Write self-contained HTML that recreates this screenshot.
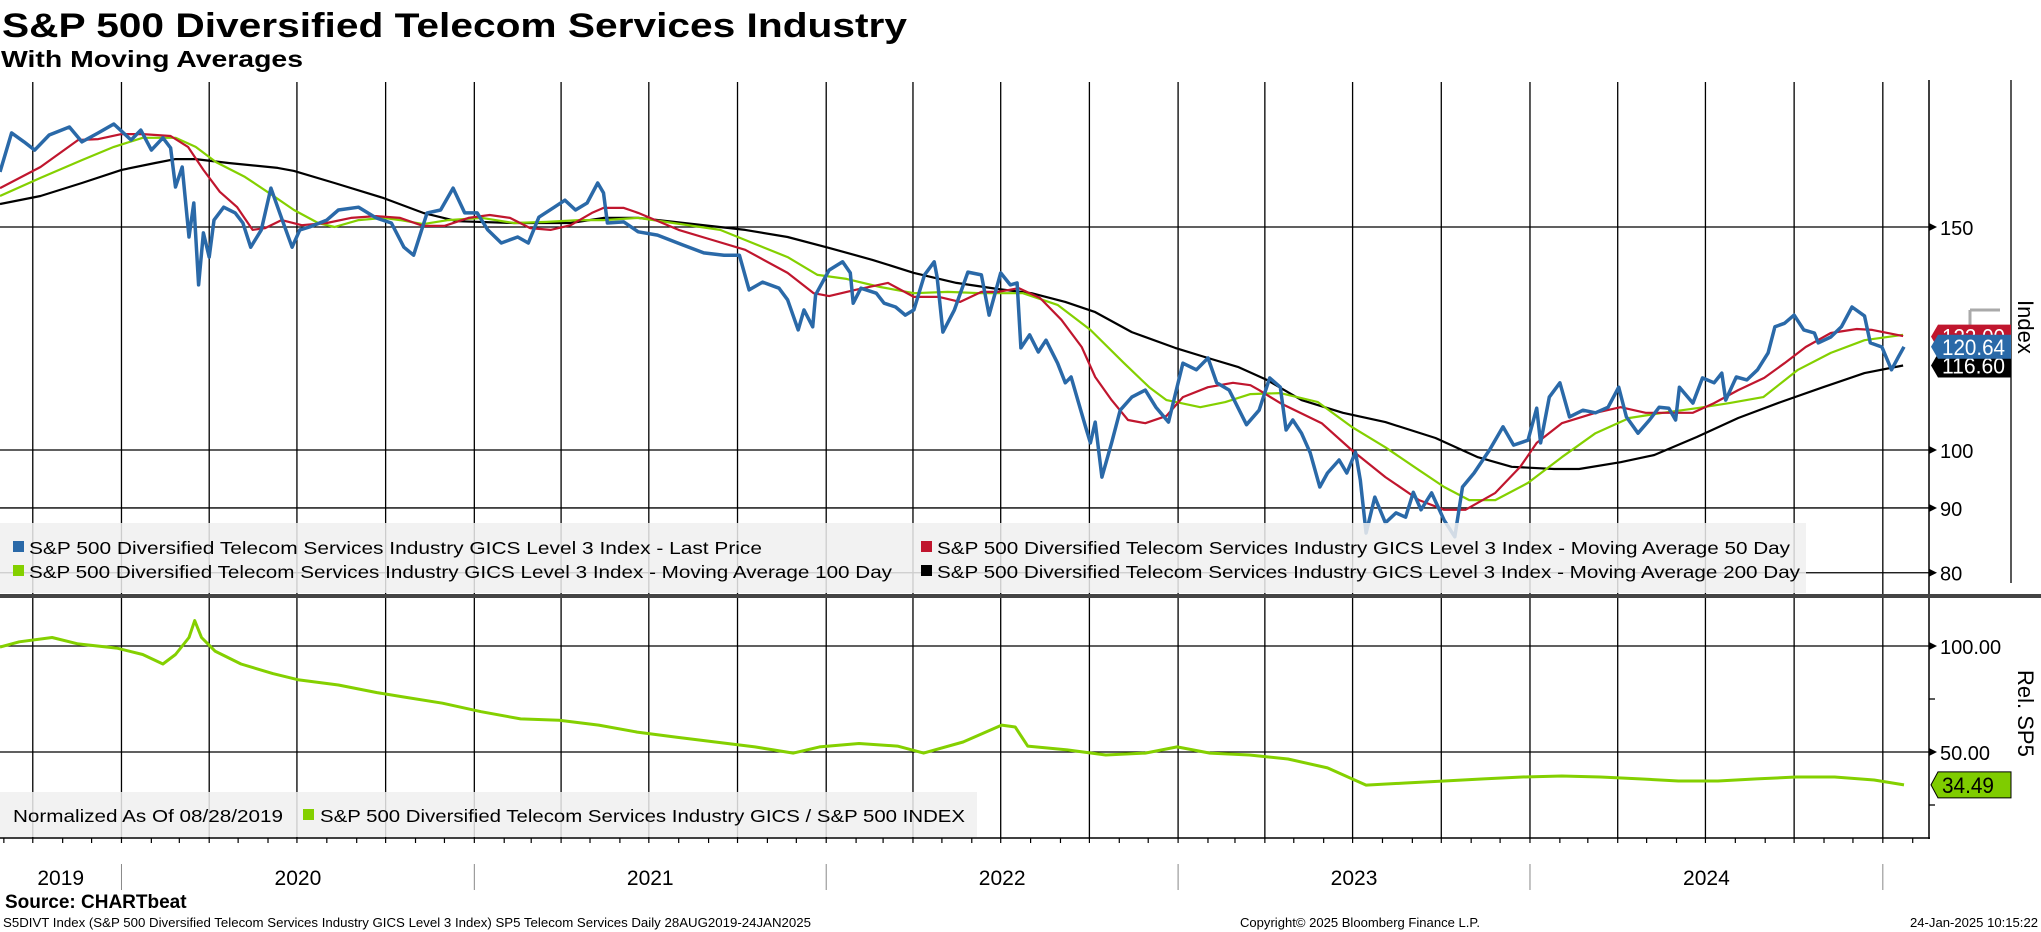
<!DOCTYPE html>
<html><head><meta charset="utf-8">
<style>
html,body{margin:0;padding:0;background:#fff;}
svg{display:block;font-family:"Liberation Sans",sans-serif;}
</style></head>
<body>
<svg id="chart" width="2041" height="932" viewBox="0 0 2041 932" xmlns="http://www.w3.org/2000/svg">
<text x="2" y="37" font-size="34" font-weight="bold" textLength="905" lengthAdjust="spacingAndGlyphs">S&amp;P 500 Diversified Telecom Services Industry</text>
<text x="1" y="67" font-size="23" font-weight="bold" textLength="302" lengthAdjust="spacingAndGlyphs">With Moving Averages</text>
<g id="grid"></g>
<g id="series"></g>
<g id="overlay"></g>
<text x="5" y="908" font-size="19" font-weight="bold">Source: CHARTbeat</text>
<text x="3" y="927" font-size="12.5" textLength="808" lengthAdjust="spacingAndGlyphs">S5DIVT Index (S&amp;P 500 Diversified Telecom Services Industry GICS Level 3 Index) SP5 Telecom Services  Daily 28AUG2019-24JAN2025</text>
<text x="1240" y="927" font-size="12.5" textLength="240" lengthAdjust="spacingAndGlyphs">Copyright© 2025 Bloomberg Finance L.P.</text>
<text x="1910" y="927" font-size="12.5" textLength="128" lengthAdjust="spacingAndGlyphs">24-Jan-2025 10:15:22</text>
</svg>
<script>
// ---- data (days since 2019-08-28) ----
const priceDays = [0,12,25,36,51,72,85,102,118,136,146,157,169,177,182,189,196,201,206,211,217,222,232,244,252,260,271,281,292,303,311,321,339,351,372,390,406,419,429,443,457,470,482,495,506,520,537,548,559,575,586,597,609,620,626,630,647,662,682,708,730,751,767,777,791,808,817,828,834,843,846,860,874,882,885,893,909,917,929,939,948,959,969,972,978,990,1004,1018,1026,1038,1048,1055,1059,1068,1077,1085,1097,1105,1111,1118,1127,1131,1136,1143,1153,1162,1174,1188,1199,1212,1227,1241,1253,1262,1275,1293,1306,1317,1328,1334,1341,1350,1359,1369,1377,1389,1397,1406,1411,1417,1426,1437,1448,1458,1466,1474,1485,1498,1509,1517,1529,1545,1559,1570,1585,1594,1598,1607,1618,1628,1642,1655,1668,1679,1687,1699,1711,1721,1731,1738,1742,1756,1766,1778,1786,1790,1801,1812,1823,1834,1841,1851,1861,1871,1882,1886,1899,1910,1921,1934,1940,1952,1962,1969,1975];
const priceValues = [165.8,178.0,175.1,172.5,177.3,179.9,175.1,178.0,180.9,175.7,178.9,172.5,176.4,173.2,161.3,167.3,147.3,156.7,135.0,148.4,142.0,151.9,155.5,153.9,151.1,144.6,149.2,161.0,152.5,144.6,149.2,150.0,151.9,154.7,155.5,152.5,151.1,144.6,142.5,153.9,154.7,161.0,153.9,153.9,149.2,145.7,147.3,145.7,152.7,155.5,157.5,154.7,156.7,162.5,159.6,151.1,151.4,148.7,147.8,145.2,143.1,142.5,142.5,133.8,135.7,134.2,131.4,124.4,129.0,125.1,132.6,138.7,140.8,138.0,130.6,134.2,133.0,130.6,129.7,127.8,129.0,137.5,140.8,137.0,123.9,129.0,138.2,137.5,127.8,138.0,135.0,135.5,120.4,123.3,119.5,122.1,117.1,113.0,114.2,109.5,103.7,101.3,105.2,95.2,101.3,107.5,110.1,111.5,108.1,105.2,117.1,115.7,118.2,113.0,111.5,104.7,107.5,114.0,112.1,103.7,105.6,103.1,99.5,93.5,95.9,98.2,95.9,99.6,94.7,86.0,91.8,87.6,89.2,88.5,92.6,89.7,92.5,88.0,85.4,93.5,95.9,100.0,104.3,100.9,101.8,107.9,101.3,110.1,113.0,106.2,107.5,107.0,108.1,112.1,106.2,103.1,105.6,108.1,107.9,105.6,112.1,108.9,114.0,113.0,115.0,109.5,114.2,113.6,115.7,119.3,125.1,125.9,127.8,124.4,123.7,121.5,122.8,125.1,129.7,127.6,121.5,120.6,115.7,118.4,120.64];
const ma50Days = [0,42,81,102,126,148,177,195,211,228,246,262,275,292,313,339,364,390,415,439,461,486,508,529,550,571,592,614,626,647,662,704,739,773,817,844,860,887,921,948,974,996,1018,1035,1057,1079,1101,1122,1136,1153,1170,1188,1210,1227,1253,1279,1297,1306,1328,1371,1402,1437,1472,1498,1520,1551,1577,1594,1620,1655,1681,1707,1733,1756,1778,1803,1830,1851,1873,1899,1926,1942,1974];
const ma50Values = [161.0,167.3,175.7,176.0,177.6,177.6,177.0,173.5,166.4,159.9,155.5,149.2,149.7,151.9,150.5,151.1,152.5,153.0,152.5,150.3,150.3,152.5,153.3,152.5,149.7,149.2,150.5,153.9,155.3,155.3,153.9,149.2,146.5,143.9,138.0,133.0,132.3,133.8,135.5,132.1,132.1,130.9,133.3,133.3,134.2,131.8,126.7,120.6,114.2,109.5,105.6,105.0,106.4,110.1,112.1,113.0,112.5,111.5,108.9,105.0,100.0,95.2,91.3,89.7,89.7,92.5,97.0,101.3,105.0,107.0,108.1,107.0,107.0,107.0,108.9,111.5,114.0,117.1,120.6,123.7,124.6,124.4,123.0];
const ma100Days = [0,42,85,118,148,182,203,224,254,279,305,330,347,372,398,415,439,465,500,533,567,601,626,662,747,773,817,848,878,913,948,983,1018,1061,1097,1131,1166,1192,1210,1245,1271,1297,1328,1367,1402,1437,1472,1498,1524,1551,1585,1620,1655,1690,1725,1760,1794,1829,1865,1899,1934,1974];
const ma100Values = [158.7,164.0,169.4,173.5,176.4,176.4,173.5,168.8,164.3,159.6,154.7,151.1,150.0,151.9,152.5,151.9,150.8,151.9,152.5,151.1,151.4,151.9,151.9,152.5,149.2,146.5,142.0,137.5,136.5,134.5,133.0,133.3,133.0,133.0,130.2,124.4,117.1,112.1,109.5,108.1,109.1,110.7,110.9,109.1,104.3,100.5,96.4,93.5,91.3,91.3,94.2,98.7,103.1,106.0,107.0,107.9,108.9,110.1,115.7,119.3,122.1,123.3];
const ma200Days = [0,42,85,126,161,182,203,237,288,305,347,398,439,474,533,592,626,662,773,817,860,905,948,992,1035,1070,1105,1136,1174,1219,1253,1284,1314,1350,1393,1437,1489,1533,1568,1612,1638,1681,1716,1760,1803,1847,1891,1934,1974];
const ma200Values = [156.4,158.7,162.5,166.4,168.5,169.7,169.7,168.5,167.0,166.1,162.5,158.1,153.9,151.6,151.1,151.1,152.5,152.5,149.2,147.3,144.4,141.3,138.0,135.5,134.0,133.0,130.9,128.5,123.9,120.4,118.2,116.3,113.6,109.5,107.0,105.2,102.2,98.7,97.0,96.6,96.6,97.8,99.1,102.4,106.0,109.1,112.1,115.0,116.6];
const relDays = [0,20,54,81,121,148,169,182,196,202,209,223,250,283,310,351,391,418,459,499,540,580,621,661,702,742,783,823,850,891,931,958,999,1039,1053,1066,1107,1147,1188,1221,1255,1296,1336,1377,1417,1458,1498,1539,1579,1620,1660,1701,1741,1782,1822,1863,1903,1944,1975];
const relValues = [99.5,102,104,101,99,96,91.5,96,104,112,104,97.6,91.5,87,84,81.6,78,76,73,69,65.6,65,62.7,59.4,57,54.7,52.4,49.5,52.4,54,52.8,49.5,54.7,62.7,61.8,52.8,51,48.6,49.5,52.4,49.5,48.6,46.7,42.5,34.4,35.4,36.3,37.3,38.2,38.7,38.2,37.3,36.3,36.3,37.3,38.2,38.2,36.8,34.49];
const topTicks = [150,100,90,80];
const topTickLabels = ["150","100","90","80"];
const botTicks = [100,50];
const botTickLabels = ["100.00","50.00"];
const botMinorTicks = [75,25];
const yearLabels = ["2019","2020","2021","2022","2023","2024"];
const lastLabels = [["122.00", 122.9, "#c0162e"],["116.60", 116.6, "#000"],["120.64", 120.64, "#2a69a8"]];
const relLast = "34.49";

const NS = "http://www.w3.org/2000/svg";
const START = Date.UTC(2019,7,28);
const TOTAL_DAYS = 1976;
const PLOT_W = 1905, AXIS_X = 1929;
function xDay(d){ return d * PLOT_W / TOTAL_DAYS; }
function xDate(y,m,dd){ return xDay((Date.UTC(y,m,dd||1)-START)/86400000); }
function yTop(v){ return 450 - 550*Math.log(v/100); }
function yBot(v){ return 646 + (100-v)*2.12; }
function mk(tag, attrs, parent){
  const e=document.createElementNS(NS,tag);
  for(const k in attrs) e.setAttribute(k,attrs[k]);
  parent.appendChild(e); return e;
}
const svg=document.getElementById('chart');
const grid=document.getElementById('grid');
const series=document.getElementById('series');
const overlay=document.getElementById('overlay');

const defs=mk('defs',{},svg);
const c1=mk('clipPath',{id:'clipTop'},defs); mk('rect',{x:0,y:80,width:AXIS_X,height:514},c1);
const c2=mk('clipPath',{id:'clipBot'},defs); mk('rect',{x:0,y:598,width:AXIS_X,height:240},c2);

// quarterly vertical gridlines
for(let y=2019;y<=2025;y++){
  for(const m of [0,3,6,9]){
    const x=xDate(y,m,1);
    if(x<1||x>PLOT_W+5) continue;
    const l=mk('line',{x1:x,x2:x,y1:82,y2:838,stroke:'#000','stroke-width':1.3},grid);
    
    
  }
}
// horizontal gridlines + labels top
topTicks.forEach((v,i)=>{
  const y=yTop(v);
  const l=mk('line',{x1:0,x2:AXIS_X,y1:y,y2:y,stroke:'#000','stroke-width':1.3},grid);
  
  
  const a=mk('path',{d:`M${AXIS_X} ${y-4}L${AXIS_X+8} ${y}L${AXIS_X} ${y+4}Z`,fill:'#000'},grid);
  
  
  const t=mk('text',{x:1940,y:y+8,'font-size':20},grid); t.textContent=topTickLabels[i];
  
  
});
botTicks.forEach((v,i)=>{
  const y=yBot(v);
  const l=mk('line',{x1:0,x2:AXIS_X,y1:y,y2:y,stroke:'#000','stroke-width':1.3},grid);
  
  
  const a=mk('path',{d:`M${AXIS_X} ${y-4}L${AXIS_X+8} ${y}L${AXIS_X} ${y+4}Z`,fill:'#000'},grid);
  
  
  const t=mk('text',{x:1940,y:y+8,'font-size':20},grid); t.textContent=botTickLabels[i];
  
  
});
botMinorTicks.forEach(v=>{
  const y=yBot(v);
  const l=mk('line',{x1:AXIS_X,x2:AXIS_X+6,y1:y,y2:y,stroke:'#000','stroke-width':1.3},grid);
  
  
});
// axes
let ax=mk('line',{x1:AXIS_X,x2:AXIS_X,y1:80,y2:839,stroke:'#000','stroke-width':1.5},grid);


ax=mk('line',{x1:0,x2:AXIS_X+1,y1:838,y2:838,stroke:'#000','stroke-width':1.5},grid);


ax=mk('line',{x1:2011,x2:2011,y1:80,y2:583,stroke:'#000','stroke-width':1.3},grid);


// monthly ticks
for(let y=2019;y<=2025;y++){
  for(let m=0;m<12;m++){
    const x=xDate(y,m,1);
    if(x<1||x>PLOT_W+10) continue;
    const l=mk('line',{x1:x,x2:x,y1:838,y2:843,stroke:'#000','stroke-width':1.2},grid);
    
    
  }
}
// year separators and labels
for(let y=2020;y<=2025;y++){
  const x=xDate(y,0,1);
  const l=mk('line',{x1:x,x2:x,y1:864,y2:890,stroke:'#888','stroke-width':1},grid);
  
  
}
yearLabels.forEach((lab,i)=>{
  const yr=2019+i;
  const x0=Math.max(0,xDate(yr,0,1)), x1=xDate(yr+1,0,1);
  const t=mk('text',{x:(x0+x1)/2,y:885,'font-size':21,'text-anchor':'middle'},grid);
  t.textContent=lab;
  
  
});

// series
function line(days,vals,yf,color,w,clip,name){
  const d=days.map((dd,i)=>(i?'L':'M')+xDay(dd).toFixed(1)+' '+yf(vals[i]).toFixed(1)).join('');
  const p=mk('path',{d:d,fill:'none',stroke:color,'stroke-width':w,'stroke-linejoin':'round','clip-path':`url(#${clip})`},series);
  
  
}
line(ma200Days,ma200Values,yTop,'#000',2.2,'clipTop','ma200-line');
line(ma100Days,ma100Values,yTop,'#84d000',2.2,'clipTop','ma100-line');
line(ma50Days,ma50Values,yTop,'#c0162e',2.2,'clipTop','ma50-line');
line(priceDays,priceValues,yTop,'#2a69a8',3.5,'clipTop','price-line');
line(relDays,relValues,yBot,'#84d000',3,'clipBot','relative-line');

// panel separator
let sep=mk('rect',{x:0,y:594,width:2041,height:4,fill:'#444'},overlay);



// top legend
const lg=mk('g',{},overlay);


mk('rect',{x:0,y:523,width:1806,height:70,fill:'#f0f0f0','fill-opacity':0.85},lg);
const legItems=[
 [10,554,'#2a69a8','S&P 500 Diversified Telecom Services Industry GICS Level 3 Index - Last Price',733,'legend-entry-last-price'],
 [918,554,'#c0162e','S&P 500 Diversified Telecom Services Industry GICS Level 3 Index - Moving Average 50 Day',853,'legend-entry-ma50'],
 [10,578,'#84d000','S&P 500 Diversified Telecom Services Industry GICS Level 3 Index - Moving Average 100 Day',863,'legend-entry-ma100'],
 [918,578,'#000','S&P 500 Diversified Telecom Services Industry GICS Level 3 Index - Moving Average 200 Day',863,'legend-entry-ma200']];
legItems.forEach(it=>{
  const g=mk('g',{},lg);
  
  
  mk('rect',{x:it[0]+3,y:it[1]-13,width:11,height:11,fill:it[2]},g);
  const t=mk('text',{x:it[0]+19,y:it[1],'font-size':17.5,textLength:it[4],lengthAdjust:'spacingAndGlyphs'},g);
  t.textContent=it[3];
});
// bottom legend
const bl=mk('g',{},overlay);


mk('rect',{x:0,y:792,width:977,height:45,fill:'#f0f0f0','fill-opacity':0.85},bl);
let bt=mk('text',{x:13,y:822,'font-size':17.5,textLength:270,lengthAdjust:'spacingAndGlyphs'},bl);
bt.textContent='Normalized As Of 08/28/2019';


const be=mk('g',{},bl);


mk('rect',{x:303,y:809,width:11,height:11,fill:'#84d000'},be);
const bt2=mk('text',{x:320,y:822,'font-size':17.5,textLength:645,lengthAdjust:'spacingAndGlyphs'},be);
bt2.textContent='S&P 500 Diversified Telecom Services Industry GICS / S&P 500 INDEX';

// last value labels
let br=mk('path',{d:'M1970 310H2000M1970 310V330',stroke:'#aaa','stroke-width':3,fill:'none'},overlay);


lastLabels.forEach(l=>{
  const y=yTop(l[1]);
  const g=mk('g',{},overlay);
  
  
  mk('path',{d:`M1931 ${y}L1938 ${y-12}H2011V${y+12}H1938Z`,fill:l[2]},g);
  const t=mk('text',{x:1942,y:y+8,'font-size':22,fill:'#fff',textLength:63,lengthAdjust:'spacingAndGlyphs'},g);
  t.textContent=l[0];
});
{
  const y=yBot(relValues[relValues.length-1]);
  const g=mk('g',{},overlay);
  
  
  mk('path',{d:`M1931 ${y}L1938 ${y-13}H2011V${y+13}H1938Z`,fill:'#7fcc00',stroke:'#000','stroke-width':1},g);
  const t=mk('text',{x:1942,y:y+8,'font-size':22,fill:'#000',textLength:52,lengthAdjust:'spacingAndGlyphs'},g);
  t.textContent=relLast;
}
// axis titles
let at=mk('text',{transform:'translate(2018,300) rotate(90)','font-size':22},overlay);
at.textContent='Index';


at=mk('text',{transform:'translate(2018,670) rotate(90)','font-size':22},overlay);
at.textContent='Rel. SP5';


</script>
</body></html>
